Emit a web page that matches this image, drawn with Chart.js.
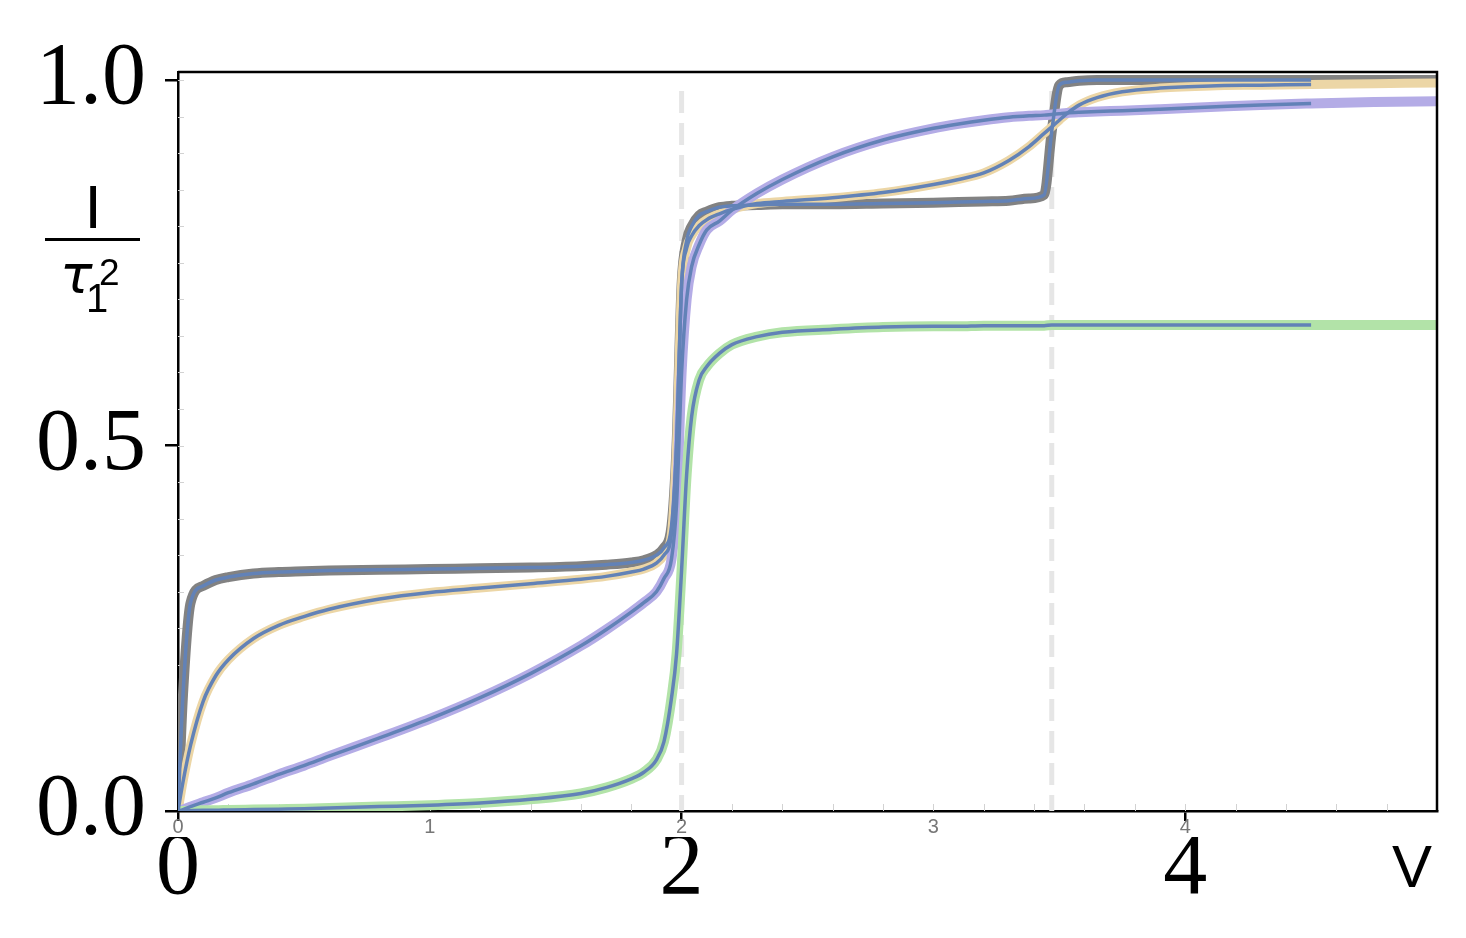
<!DOCTYPE html>
<html>
<head>
<meta charset="utf-8">
<script src="https://cdn.jsdelivr.net/npm/chart.js@4"></script>
<style>
  html, body { margin: 0; padding: 0; background: #fff; }
  #wrap { width: 1466px; height: 938px; }
</style>
</head>
<body>
<div id="wrap"><canvas id="chart" width="1466" height="938"></canvas></div>
<script>
// sample positions along V
const xValues = [
  0, 0.02, 0.05, 0.1, 0.15, 0.2, 0.3, 0.4, 0.5, 0.6,
  0.8, 1.0, 1.2, 1.4, 1.6, 1.7, 1.8, 1.85, 1.9, 1.93,
  1.96, 1.98, 2.0, 2.02, 2.04, 2.07, 2.1, 2.15, 2.2, 2.3,
  2.4, 2.6, 2.8, 3.0, 3.1, 3.2, 3.3, 3.38, 3.44, 3.47,
  3.5, 3.53, 3.58, 3.65, 3.75, 3.9, 4.1, 4.3, 4.5, 4.75,
  5.0
];

const grayCurve = [
  0, 0.16, 0.285, 0.308, 0.316, 0.32, 0.325, 0.327, 0.328, 0.329,
  0.33, 0.331, 0.332, 0.333, 0.335, 0.337, 0.34, 0.343, 0.35, 0.36,
  0.39, 0.5, 0.72, 0.78, 0.8, 0.815, 0.82, 0.826, 0.828, 0.829,
  0.83, 0.83, 0.831, 0.832, 0.833, 0.834, 0.835, 0.838, 0.843, 0.93,
  0.993, 0.997, 0.999, 1.0, 1.0, 1.0, 1.0, 1.0, 1.0, 1.0,
  1.0
];

const tanCurve = [
  0, 0.04, 0.09, 0.15, 0.185, 0.207, 0.236, 0.254, 0.266, 0.276,
  0.29, 0.299, 0.305, 0.311, 0.317, 0.321, 0.327, 0.331, 0.339, 0.35,
  0.38, 0.5, 0.72, 0.77, 0.787, 0.801, 0.809, 0.817, 0.823, 0.831,
  0.834, 0.839, 0.846, 0.857, 0.864, 0.873, 0.89, 0.909, 0.927, 0.936,
  0.945, 0.954, 0.966, 0.976, 0.984, 0.989, 0.992, 0.993, 0.994, 0.995,
  0.996
];

const purpleCurve = [
  0, 0.002, 0.006, 0.012, 0.018, 0.025, 0.037, 0.05, 0.062, 0.075,
  0.1, 0.126, 0.155, 0.188, 0.226, 0.248, 0.272, 0.285, 0.3, 0.318,
  0.345, 0.42, 0.6, 0.7, 0.745, 0.775, 0.795, 0.807, 0.822, 0.845,
  0.864, 0.895, 0.918, 0.934, 0.94, 0.945, 0.949, 0.951, 0.952, 0.953,
  0.954, 0.955, 0.956, 0.957, 0.958, 0.96, 0.963, 0.966, 0.968, 0.97,
  0.971
];

const greenCurve = [
  0, 0, 0.0005, 0.001, 0.001, 0.0015, 0.002, 0.0025, 0.003, 0.004,
  0.006, 0.008, 0.011, 0.016, 0.024, 0.032, 0.044, 0.053, 0.07, 0.095,
  0.155, 0.215, 0.33, 0.46, 0.54, 0.59, 0.608, 0.626, 0.638, 0.649,
  0.655, 0.659, 0.662, 0.663, 0.663, 0.664, 0.664, 0.664, 0.664, 0.665,
  0.665, 0.665, 0.665, 0.665, 0.665, 0.665, 0.665, 0.665, 0.665, 0.665,
  0.665
];

const overlayEnd = 4.5;          // the thin blue traces stop here
const markerLines = [2, 3.47];   // dashed verticals
const markerTop = 0.985;

const xSmallTicks = [0, 1, 2, 3, 4];
const xBigTicks = [0, 2, 4];
const yTicks = [0, 0.5, 1.0];

const toPoints = ys => xValues.map((x, i) => ({ x: x, y: ys[i] }));

const curves = [
  { ys: grayCurve, color: '#828282', width: 10, order: 5 },
  { ys: tanCurve, color: '#ecd6a6', width: 9, order: 4 },
  { ys: purpleCurve, color: '#b4ace6', width: 10, order: 3 },
  { ys: greenCurve, color: '#b2e3a8', width: 10, order: 2 }
];

const datasets = [];
markerLines.forEach(x => {
  datasets.push({
    data: [{ x: x, y: markerTop }, { x: x, y: 0 }],
    borderColor: '#e6e6e6',
    borderWidth: 5,
    borderDash: [22, 10],
    pointRadius: 0,
    order: 10
  });
});
curves.forEach(c => {
  datasets.push({
    data: toPoints(c.ys),
    borderColor: c.color,
    borderWidth: c.width,
    pointRadius: 0,
    cubicInterpolationMode: 'monotone',
    order: c.order
  });
});
curves.forEach(c => {
  datasets.push({
    data: toPoints(c.ys).filter(p => p.x <= overlayEnd),
    borderColor: '#6282b7',
    borderWidth: 3.5,
    pointRadius: 0,
    cubicInterpolationMode: 'monotone',
    order: 0
  });
});

const framePlugin = {
  id: 'frame',
  beforeDatasetsDraw(chart) {
    const { ctx, chartArea: a, scales } = chart;
    ctx.save();
    ctx.strokeStyle = '#d2d2d2';
    ctx.lineWidth = 1;
    ctx.beginPath();
    for (let i = 1; i < 25; i++) {
      const px = Math.round(scales.x.getPixelForValue(i * 0.2)) + 0.5;
      ctx.moveTo(px, a.bottom);
      ctx.lineTo(px, a.bottom - 7);
    }
    for (let i = 1; i <= 20; i++) {
      const py = Math.round(scales.y.getPixelForValue(i * 0.05)) + 0.5;
      ctx.moveTo(a.left, py);
      ctx.lineTo(a.left + 6, py);
    }
    ctx.stroke();
    ctx.restore();
  },
  afterDatasetsDraw(chart) {
    const { ctx, chartArea: a } = chart;
    ctx.save();
    ctx.strokeStyle = '#000';
    ctx.lineWidth = 2.5;
    ctx.beginPath();
    ctx.moveTo(a.left, a.top);
    ctx.lineTo(a.right, a.top);
    ctx.lineTo(a.right, a.bottom);
    ctx.stroke();
    ctx.restore();
  },
  afterDraw(chart) {
    const ctx = chart.ctx;
    ctx.save();
    ctx.fillStyle = '#000';
    ctx.textBaseline = 'alphabetic';
    ctx.textAlign = 'center';
    ctx.font = '62px "Liberation Sans"';
    ctx.fillText('I', 93, 228);
    ctx.fillRect(45, 238, 95, 3);
    ctx.textAlign = 'left';
    ctx.font = 'italic 54px "DejaVu Sans"';
    ctx.fillText('τ', 60, 293);
    ctx.font = '40px "Liberation Sans"';
    ctx.fillText('1', 86, 312);
    ctx.font = '37px "Liberation Sans"';
    ctx.fillText('2', 99, 285);
    ctx.textAlign = 'center';
    ctx.font = '60px "Liberation Sans"';
    ctx.fillText('V', 1412, 887);
    ctx.restore();
  }
};

new Chart(document.getElementById('chart'), {
  type: 'line',
  data: { datasets: datasets },
  options: {
    responsive: false,
    animation: false,
    events: [],
    layout: { padding: { top: 72, right: 29, left: 0, bottom: 0 } },
    plugins: { legend: { display: false }, tooltip: { enabled: false } },
    scales: {
      x: {
        type: 'linear', position: 'bottom', min: 0, max: 5, weight: 0,
        afterBuildTicks: s => { s.ticks = xSmallTicks.map(v => ({ value: v })); },
        afterFit: s => { s.height = 26; },
        grid: {
          drawOnChartArea: false, tickLength: 10, lineWidth: 2.5,
          tickColor: c => (c.tick && xBigTicks.includes(c.tick.value)) ? '#000' : 'rgba(0,0,0,0)'
        },
        border: { color: '#000', width: 2.5 },
        ticks: {
          color: '#777', font: { family: 'Liberation Sans', size: 20 },
          padding: -6, maxRotation: 0, autoSkip: false
        }
      },
      x2: {
        type: 'linear', position: 'bottom', min: 0, max: 5, weight: 1,
        afterBuildTicks: s => { s.ticks = xBigTicks.map(v => ({ value: v })); },
        afterFit: s => { s.height = 101; },
        grid: { display: false, drawTicks: false },
        border: { display: false },
        ticks: {
          color: '#000', font: { family: 'Liberation Serif', size: 88 },
          padding: -20, maxRotation: 0, autoSkip: false
        }
      },
      y: {
        type: 'linear', min: 0, max: 1.011,
        afterBuildTicks: s => { s.ticks = yTicks.map(v => ({ value: v })); },
        afterFit: s => { s.width = 178; },
        grid: { drawOnChartArea: false, tickLength: 13, lineWidth: 2.5, tickColor: '#000' },
        border: { color: '#000', width: 2.5 },
        ticks: {
          color: '#000', font: { family: 'Liberation Serif', size: 88 },
          padding: 19, callback: v => v.toFixed(1)
        }
      }
    }
  },
  plugins: [framePlugin]
});
</script>
</body>
</html>
